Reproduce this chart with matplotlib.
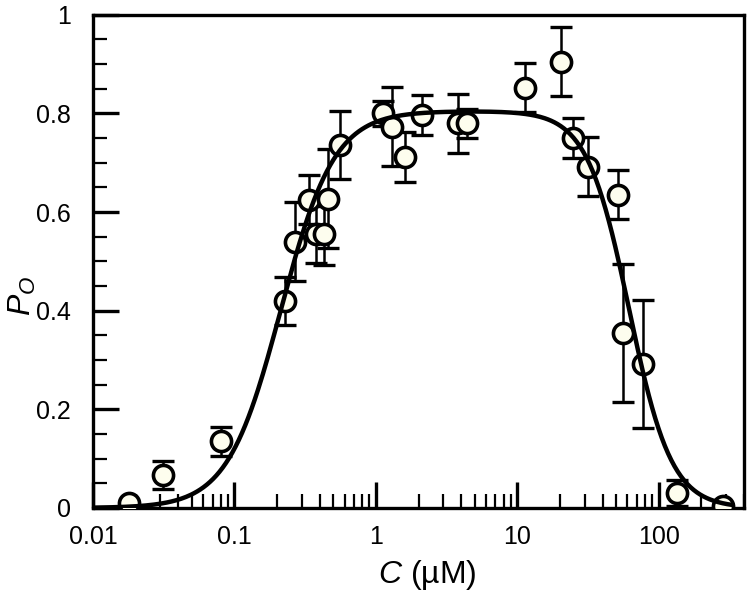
import numpy as np
import matplotlib
matplotlib.use('Agg')
import matplotlib.pyplot as plt
from matplotlib.ticker import LogLocator, MultipleLocator, FixedLocator, FixedFormatter, NullFormatter

# Data
conc = [0.018, 0.031, 0.080, 0.228, 0.267, 0.336, 0.376, 0.428, 0.458, 0.557,
        1.12, 1.30, 1.60, 2.11, 3.8, 4.4, 11.3, 20.3, 24.7, 31.5,
        51.3, 55.7, 77.0, 134.0, 283.0]
po = [0.010, 0.067, 0.135, 0.420, 0.540, 0.625, 0.555, 0.555, 0.627, 0.736,
      0.800, 0.773, 0.712, 0.797, 0.780, 0.780, 0.852, 0.905, 0.750, 0.692,
      0.635, 0.355, 0.292, 0.030, 0.003]
po_err = [0.0, 0.028, 0.030, 0.048, 0.080, 0.050, 0.058, 0.062, 0.100, 0.068,
          0.025, 0.080, 0.050, 0.040, 0.060, 0.030, 0.050, 0.070, 0.040, 0.060,
          0.050, 0.140, 0.130, 0.027, 0.0]

# Bell-shaped fit parameters (estimated from the drawn curve)
p_max = 0.805
k_act, n_act = 0.213, 2.3
k_inh, n_inh = 61.7, 2.9

xticks = [0.01, 0.1, 1, 10, 100]
xtick_labels = ['0.01', '0.1', '1', '10', '100']
yticks = [0, 0.2, 0.4, 0.6, 0.8, 1]
ytick_labels = ['0', '0.2', '0.4', '0.6', '0.8', '1']

plt.rcParams['font.family'] = ['Liberation Sans', 'DejaVu Sans']
plt.rcParams['mathtext.fontset'] = 'custom'
plt.rcParams['mathtext.rm'] = 'Liberation Sans'
plt.rcParams['mathtext.it'] = 'Liberation Sans:italic'

fig = plt.figure(figsize=(7.5, 5.96), dpi=100)
ax = fig.add_axes([0.124, 0.1477, 0.868, 0.8274])

xs = np.logspace(-2, np.log10(330), 400)
fit = p_max * xs**n_act / (xs**n_act + k_act**n_act) * k_inh**n_inh / (xs**n_inh + k_inh**n_inh)

ax.errorbar(conc, po, yerr=po_err, fmt='none', ecolor='black', elinewidth=1.8,
            capsize=8, capthick=2.4, zorder=2)
ax.plot(conc, po, 'o', ms=14.5, mfc='#fdfdee', mec='black', mew=2.6, zorder=3)
ax.plot(xs, fit, color='black', lw=3.2, zorder=4)

ax.set_xscale('log')
ax.set_xlim(0.01, 400)
ax.set_ylim(0, 1)

ax.xaxis.set_major_locator(FixedLocator(xticks))
ax.xaxis.set_major_formatter(FixedFormatter(xtick_labels))
ax.xaxis.set_minor_locator(LogLocator(base=10, subs=np.arange(2, 10), numticks=20))
ax.xaxis.set_minor_formatter(NullFormatter())
ax.yaxis.set_major_locator(FixedLocator(yticks))
ax.yaxis.set_major_formatter(FixedFormatter(ytick_labels))
ax.yaxis.set_minor_locator(MultipleLocator(0.05))

ax.tick_params(which='major', direction='in', length=19, width=2.4, labelsize=18,
               top=False, right=False)
ax.tick_params(which='minor', direction='in', length=10, width=1.6, top=False, right=False)
ax.tick_params(axis='x', which='major', pad=12)
ax.tick_params(axis='y', which='major', pad=16)

for sp in ax.spines.values():
    sp.set_linewidth(2.4)

ax.set_xlabel(r'$C$ (µM)', fontsize=23)
ax.xaxis.set_label_coords(0.513, -0.102)
ax.set_ylabel(r'$P_O$', fontsize=23)
ax.yaxis.set_label_coords(-0.085, 0.43)

fig.savefig('out.png', dpi=100)
